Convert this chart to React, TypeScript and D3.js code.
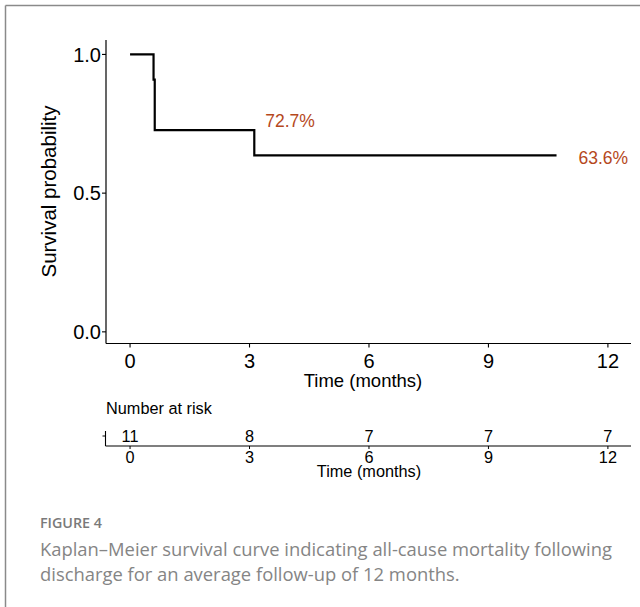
import React from "react";
import * as d3 from "d3";

const eventTimes = [0, 0.59, 0.62, 3.12, 10.71];
const survivalProb = [1.0, 0.909, 0.727, 0.636, 0.636];
const xTicks = [0, 3, 6, 9, 12];
const yTicks = [0.0, 0.5, 1.0];
const riskTimes = [0, 3, 6, 9, 12];
const numberAtRisk = [11, 8, 7, 7, 7];
const annotationTexts = ["72.7%", "63.6%"];
const captionTitle = "FIGURE 4";
const captionLines = [
  "Kaplan\u2013Meier survival curve indicating all-cause mortality following",
  "discharge for an average follow-up of 12 months.",
];

const W = 640;
const H = 607;
const FONT = "'Liberation Sans', Arial, sans-serif";
const ACCENT = "#B5481C";

export default function App() {
  const x = d3.scaleLinear().domain([-0.604, 12.58]).range([106, 631]);
  const y = d3.scaleLinear().domain([-0.042, 1.052]).range([343.5, 40]);

  const pts: [number, number][] = eventTimes.map((t, i) => [t, survivalProb[i]]);
  const line = d3
    .line<[number, number]>()
    .x((d) => x(d[0]))
    .y((d) => y(d[1]))
    .curve(d3.curveStepAfter);

  const riskAxisY = 446;
  const lastIdx = eventTimes.length - 1;

  return (
    <svg
      width={W}
      height={H}
      style={{ position: "absolute", left: 0, top: 0, background: "#fff" }}
    >
      {/* frame */}
      <line x1={5.5} y1={5.5} x2={W} y2={5.5} stroke="#8a8a8a" strokeWidth={1.5} />
      <line x1={5.5} y1={5.5} x2={5.5} y2={H} stroke="#8a8a8a" strokeWidth={1.5} />

      {/* main axes */}
      <line x1={106} y1={y.range()[1]} x2={106} y2={y.range()[0]} stroke="#000" strokeWidth={1.2} />
      <line x1={106} y1={343.5} x2={x.range()[1]} y2={343.5} stroke="#000" strokeWidth={1.2} />
      {yTicks.map((v) => (
        <g key={"yt" + v}>
          <line x1={102} x2={106} y1={y(v)} y2={y(v)} stroke="#000" strokeWidth={1.1} />
          <text
            x={101}
            y={y(v)}
            dy="0.36em"
            textAnchor="end"
            fontFamily={FONT}
            fontSize={20}
            fill="#000"
          >
            {v.toFixed(1)}
          </text>
        </g>
      ))}
      {xTicks.map((v) => (
        <g key={"xt" + v}>
          <line x1={x(v)} x2={x(v)} y1={343.5} y2={347.5} stroke="#000" strokeWidth={1.1} />
          <text x={x(v)} y={367.5} textAnchor="middle" fontFamily={FONT} fontSize={20} fill="#000">
            {v}
          </text>
        </g>
      ))}
      <text x={363} y={387} textAnchor="middle" fontFamily={FONT} fontSize={18.5} fill="#000">
        Time (months)
      </text>
      <text
        transform={`translate(56,191.5) rotate(-90)`}
        textAnchor="middle"
        fontFamily={FONT}
        fontSize={20.5}
        fill="#000"
      >
        Survival probability
      </text>

      {/* KM curve */}
      <path d={line(pts) || ""} fill="none" stroke="#000" strokeWidth={2.2} />

      {/* annotations */}
      <text x={x(eventTimes[3]) + 11} y={y(survivalProb[2]) - 3} fontFamily={FONT} fontSize={17.5} fill={ACCENT}>
        {annotationTexts[0]}
      </text>
      <text x={x(eventTimes[lastIdx]) + 22} y={y(survivalProb[lastIdx]) + 8.5} fontFamily={FONT} fontSize={17.5} fill={ACCENT}>
        {annotationTexts[1]}
      </text>

      {/* risk table */}
      <text x={106} y={414} fontFamily={FONT} fontSize={16.3} fill="#000">
        Number at risk
      </text>
      <line x1={105.5} y1={431} x2={105.5} y2={riskAxisY} stroke="#000" strokeWidth={1.1} />
      <line x1={102.5} y1={436} x2={105.5} y2={436} stroke="#000" strokeWidth={1} />
      <line x1={105.5} y1={riskAxisY} x2={x.range()[1]} y2={riskAxisY} stroke="#000" strokeWidth={1.2} />
      {riskTimes.map((t, i) => (
        <g key={"rk" + t}>
          <text x={x(t)} y={441.5} textAnchor="middle" fontFamily={FONT} fontSize={16.3} fill="#000">
            {numberAtRisk[i]}
          </text>
          <line x1={x(t)} x2={x(t)} y1={riskAxisY} y2={riskAxisY + 3} stroke="#000" strokeWidth={1} />
          <text x={x(t)} y={462.5} textAnchor="middle" fontFamily={FONT} fontSize={16.3} fill="#000">
            {t}
          </text>
        </g>
      ))}
      <text x={369} y={477} textAnchor="middle" fontFamily={FONT} fontSize={16.3} fill="#000">
        Time (months)
      </text>

      {/* caption */}
      <text x={40} y={528} fontFamily="'Open Sans', sans-serif" fontSize={14.3} fontWeight={600} fill="#7a7a7a">
        {captionTitle}
      </text>
      {captionLines.map((l, i) => (
        <text
          key={"cap" + i}
          x={40}
          y={556 + i * 25}
          fontFamily="'Open Sans', sans-serif"
          fontSize={18.4}
          fill="#858585"
        >
          {l}
        </text>
      ))}
    </svg>
  );
}
